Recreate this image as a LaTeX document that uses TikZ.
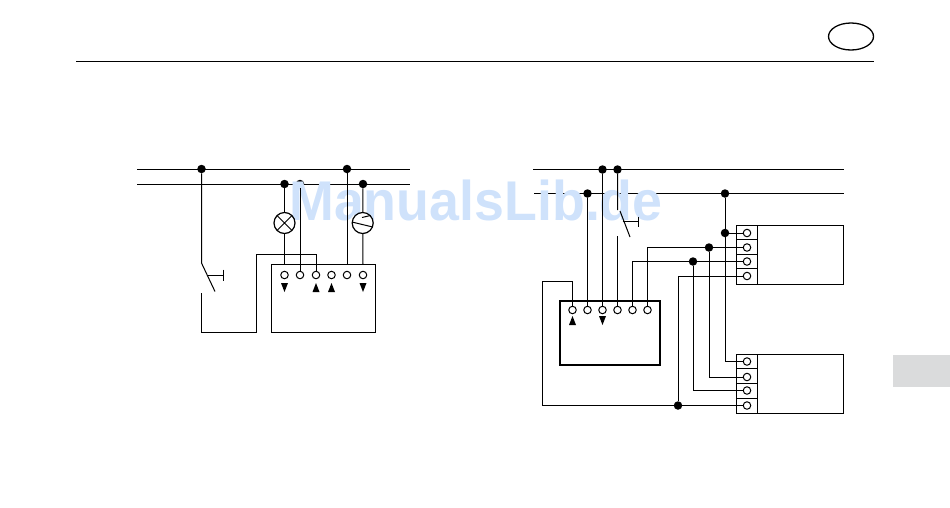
\documentclass[tikz,border=0pt]{standalone}
\usepackage{fontspec}
\setmainfont{Liberation Sans}
\newfontfamily\wmfont[FakeStretch=0.96]{Liberation Sans}
\usetikzlibrary{calc,shapes.geometric}
\definecolor{wm}{HTML}{CFE2FB}
\definecolor{tab}{HTML}{DADBDC}
\tikzset{
  x=1pt,y=-1pt,
  wire/.style={line width=1pt,black},
  dotn/.style={circle,fill=black,inner sep=0pt,outer sep=0pt,minimum size=8.5pt},
  term/.style={circle,draw=black,fill=white,line width=1pt,inner sep=0pt,outer sep=0pt,minimum size=7.5pt},
  boxn/.style={draw=black,line width=1pt,fill=white,inner sep=0pt,outer sep=0pt,anchor=north west},
  lampn/.style={circle,draw=black,fill=white,line width=1.2pt,inner sep=0pt,outer sep=0pt,minimum size=21pt},
}
\newcommand{\uptri}[2]{\fill (#1-3.5,#2+9) -- (#1+3.5,#2+9) -- (#1,#2) -- cycle;}
\newcommand{\dntri}[2]{\fill (#1-3.5,#2) -- (#1+3.5,#2) -- (#1,#2+9) -- cycle;}
\begin{document}
\begin{tikzpicture}
\useasboundingbox (0,0) rectangle (950,507);
% header
\coordinate (hl) at (76,61.5); \coordinate (hr) at (874,61.5);
\draw[wire] (hl) -- (hr);
\node[ellipse,draw=black,line width=1.3pt,inner sep=0pt,outer sep=0pt,minimum width=45pt,minimum height=27pt] (oval) at (851,36.5) {};
\fill[tab] (893,355) rectangle (950,387);
% buses, under the watermark
\coordinate (la) at (137,169); \coordinate (lb) at (410,169);
\coordinate (lc) at (137,184); \coordinate (ld) at (410,184);
\draw[wire] (la) -- (lb); \draw[wire] (lc) -- (ld);
\coordinate (ra) at (533,169.5); \coordinate (rb) at (844,169.5);
\coordinate (rc) at (534,193.5); \coordinate (rd) at (844,193.5);
\draw[wire] (ra) -- (rb); \draw[wire] (rc) -- (rd);
\node[dotn] (ld3) at (300,184) {};
% watermark
\node[anchor=base,inner sep=0pt,text=wm,font=\wmfont\fontsize{56}{56}\selectfont\bfseries] (wmark) at (476,220) {ManualsLib.de};
% ---------- left
\node[boxn,minimum width=104pt,minimum height=68pt] (lbox) at (271.5,264.5) {};
\foreach \n/\x in {1/284.5,2/300,3/316,4/331.5,5/347,6/363}
  \node[term] (lt\n) at (\x,275) {};
\node[dotn] (ld1) at (201.5,169) {};
\node[dotn] (ld2) at (284.5,184) {};
\node[dotn] (ld4) at (347,169) {};
\node[dotn] (ld5) at (363,184) {};
\node[lampn] (lamp) at (284.5,223) {};
\node[lampn] (mot) at (362.7,223) {};
\draw[wire] (lamp.45) -- (lamp.225) (lamp.135) -- (lamp.315);
\draw[wire] (mot.175) -- (mot.-22);
\draw[wire] (362,217.5) -- (370.5,215.5);
\draw[wire] (ld2) -- (lamp) (lamp) -- (lt1 |- lbox.north);
\draw[wire] (ld3) -- (lt2);
\draw[wire] (ld4) -- (lt5 |- lbox.north);
\draw[wire] (ld5) -- (mot) (mot) -- (lt6 |- lbox.north);
\coordinate (ls1) at (201.5,263); \coordinate (ls2) at (215,291.5);
\coordinate (ls3) at (207.5,275); \coordinate (ls4) at (223,275);
\draw[wire] (ld1) -- (ls1) -- (ls2);
\draw[wire] (ls3) -- (ls4) (223,269.5) -- (223,281);
\coordinate (ls5) at (201.5,293);
\draw[wire] (ls5) |- (256,332.5) |- (316,254.5) -- (lt3);
\dntri{284.5}{283}\uptri{316}{283}\uptri{331.5}{283}\dntri{363}{283}
% ---------- right
\node[draw=black,line width=2pt,fill=white,inner sep=0pt,outer sep=0pt,anchor=north west,minimum width=100pt,minimum height=64.5pt] (rbox) at (560,300.5) {};
\foreach \n/\x in {1/572.5,2/587.5,3/602.5,4/617.5,5/632.5,6/647.5}
  \node[term] (rt\n) at (\x,310) {};
\uptri{572.5}{316}\dntri{602.5}{316}
\node[boxn,minimum width=107pt,minimum height=58.5pt] (rel1) at (736.5,225.5) {};
\node[boxn,minimum width=107pt,minimum height=58.5pt] (rel2) at (736.5,354.5) {};
\draw[wire] (757,225.5) -- (757,284) (736.5,239.5) -- (757,239.5) (736.5,254) -- (757,254) (736.5,268.5) -- (757,268.5);
\draw[wire] (757,354.5) -- (757,413) (736.5,368.5) -- (757,368.5) (736.5,383.5) -- (757,383.5) (736.5,398) -- (757,398);
\node[dotn] (rd1) at (602.5,169.5) {};
\node[dotn] (rd2) at (617.5,169.5) {};
\node[dotn] (rd3) at (587.5,193.5) {};
\node[dotn] (rd4) at (725,193.5) {};
\node[dotn] (rd5) at (725,233) {};
\node[dotn] (rd6) at (709,247.5) {};
\node[dotn] (rd7) at (693,261.5) {};
\node[dotn] (rd8) at (678,405.5) {};
\foreach \n/\y in {1/233,2/247.5,3/261.5,4/276}
  \coordinate (ua\n) at (747,\y);
\foreach \n/\y in {1/361.5,2/377,3/390.5,4/405.5}
  \coordinate (ub\n) at (747,\y);
\draw[wire] (rd3) -- (rt2);
\draw[wire] (rd1) -- (rt3);
\coordinate (rs1) at (617.5,210); \coordinate (rs2) at (630,237);
\coordinate (rs3) at (622.5,221.5); \coordinate (rs4) at (638,221.5);
\draw[wire] (rd2) -- (rs1) (620,211) -- (rs2);
\draw[wire] (rs3) -- (rs4) (638,216.5) -- (638,227);
\coordinate (rs5) at (617.5,236);
\draw[wire] (rs5) -- (rt4);
\draw[wire] (rt6) |- (ua2);
\draw[wire] (rt5) |- (ua3);
\draw[wire] (rd8) |- (ua4);
\draw[wire] (rd4) |- (ub1);
\draw[wire] (rd5) -- (ua1);
\draw[wire] (rd6) |- (ub2);
\draw[wire] (rd7) |- (ub3);
\draw[wire] (rt1) |- (542.5,281.5) |- (ub4);
\foreach \n/\y in {1/233,2/247.5,3/261.5,4/276}
  \node[term] (uat\n) at (747,\y) {};
\foreach \n/\y in {1/361.5,2/377,3/390.5,4/405.5}
  \node[term] (ubt\n) at (747,\y) {};
\end{tikzpicture}
\end{document}
